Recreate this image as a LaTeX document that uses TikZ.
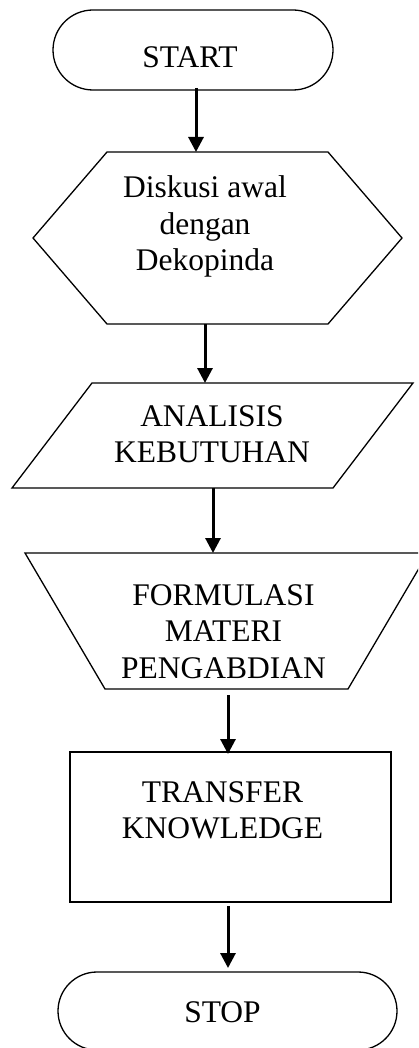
\documentclass[tikz,border=0pt]{standalone}
\usepackage{fontspec}
\setmainfont{Liberation Serif}
\usetikzlibrary{arrows.meta}
\tikzset{
  shapeline/.style={draw=black, line width=1.3pt, line join=miter},
  lbl/.style={inner sep=0pt, align=center, font=\fontsize{31.5}{36.5}\selectfont},
  flow/.style={line width=3pt, -{Triangle[length=15pt,width=15pt]}}
}
\begin{document}
\begin{tikzpicture}[x=1pt,y=-1pt]
\useasboundingbox (0,0) rectangle (418,1048);
\clip (0,0) rectangle (418,1048);
% shapes
\draw[shapeline, rounded corners=40pt] (53,10) rectangle (333,90);
\draw[shapeline] (107,152) -- (328,152) -- (402,238) -- (328,324) -- (107,324) -- (33,238) -- cycle;
\draw[shapeline] (92,383) -- (413,383) -- (333,488) -- (12,488) -- cycle;
\draw[shapeline] (25,553) -- (428,553) -- (348,689) -- (105,689) -- cycle;
\draw[shapeline] (70,752) rectangle (391,902);
\draw[shapeline, rounded corners=39pt] (58,972) rectangle (397,1050);
% texts
\node[lbl, anchor=base] (start) at (190,68) {START};
\node[lbl] (diskusi) at (205,227.2) {\strut Diskusi awal\\\strut dengan\\\strut Dekopinda};
\node[lbl] (analisis) at (212,437) {\strut ANALISIS\\\strut KEBUTUHAN};
\node[lbl] (formulasi) at (223.5,634.2) {\strut FORMULASI\\\strut MATERI\\\strut PENGABDIAN};
\node[lbl] (transfer) at (222.5,813) {\strut TRANSFER\\\strut KNOWLEDGE};
\node[lbl, anchor=base] (stop) at (222.5,1022) {STOP};
% connector end points
\coordinate (a1s) at (196,88);  \coordinate (a1e) at (196,152);
\coordinate (a2s) at (205,324); \coordinate (a2e) at (205,383);
\coordinate (a3s) at (213,488); \coordinate (a3e) at (213,553);
\coordinate (a4s) at (228,695); \coordinate (a4e) at (228,754);
\coordinate (a5s) at (228,906); \coordinate (a5e) at (228,968);
\draw[flow] (a1s) -- (a1e);
\draw[flow] (a2s) -- (a2e);
\draw[flow] (a3s) -- (a3e);
\draw[flow] (a4s) -- (a4e);
\draw[flow] (a5s) -- (a5e);
\end{tikzpicture}
\end{document}
